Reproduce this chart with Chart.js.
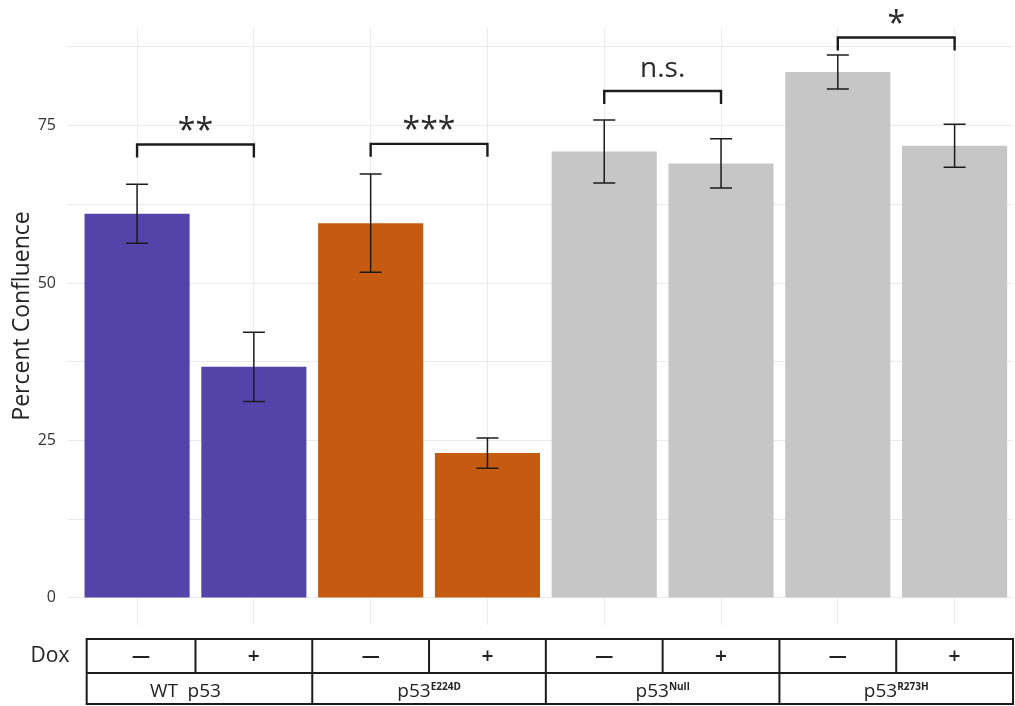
<!DOCTYPE html>
<html>
<head>
<meta charset="utf-8">
<title>Percent Confluence</title>
<script src="https://cdn.jsdelivr.net/npm/chart.js@4.4.1/dist/chart.umd.min.js"></script>
<style>
  html, body { margin: 0; padding: 0; background: #ffffff; overflow: hidden; }
  #wrap { width: 1015px; height: 706px; }
</style>
</head>
<body>
<div id="wrap"><canvas id="chart" width="1015" height="706"></canvas></div>
<script>
// ---- data ----
const doxLabels   = ['\u2014', '+', '\u2014', '+', '\u2014', '+', '\u2014', '+'];
const groupNames  = ['WT\u2002p53', 'p53', 'p53', 'p53'];
const groupSups   = ['', 'E224D', 'Null', 'R273H'];
const confluence  = [61.0, 36.7, 59.5, 23.0, 70.9, 69.0, 83.5, 71.8];
const errorSize   = [4.7, 5.5, 7.8, 2.4, 5.0, 3.9, 2.7, 3.4];
const groupColors = ['#5443a8', '#c55a11', '#c6c6c6', '#c6c6c6'];
const yTickLabels = [0, 25, 50, 75];
const yGridValues = [0, 12.5, 25, 37.5, 50, 62.5, 75, 87.5];
const sigLabels   = ['**', '***', 'n.s.', '*'];
const sigHeights  = [72.0, 72.1, 80.5, 89.0];

const FONT = '"Open Sans", "Noto Sans", sans-serif';
const INK = '#1c1c1c';
const barPositions = confluence.map((_, i) => i + 1);
const barColors = confluence.map((_, i) => groupColors[Math.floor(i / 2)]);

// Error bars, significance brackets, y title and the Dox / genotype table
const annotations = {
  id: 'annotations',
  afterDatasetsDraw(chart) {
    const { ctx, scales: { x, y } } = chart;
    ctx.save();
    // error bars
    ctx.strokeStyle = INK;
    ctx.lineWidth = 1.5;
    confluence.forEach((v, i) => {
      const cx = x.getPixelForValue(barPositions[i]);
      const top = y.getPixelForValue(v + errorSize[i]);
      const bot = y.getPixelForValue(v - errorSize[i]);
      ctx.beginPath();
      ctx.moveTo(cx, top); ctx.lineTo(cx, bot);
      ctx.moveTo(cx - 11, top); ctx.lineTo(cx + 11, top);
      ctx.moveTo(cx - 11, bot); ctx.lineTo(cx + 11, bot);
      ctx.stroke();
    });
    // brackets
    ctx.lineWidth = 2.4;
    sigLabels.forEach((lab, g) => {
      const x1 = x.getPixelForValue(barPositions[2 * g]);
      const x2 = x.getPixelForValue(barPositions[2 * g + 1]);
      const yy = y.getPixelForValue(sigHeights[g]);
      ctx.beginPath();
      ctx.moveTo(x1, yy + 13); ctx.lineTo(x1, yy); ctx.lineTo(x2, yy); ctx.lineTo(x2, yy + 13);
      ctx.stroke();
      const size = lab === 'n.s.' ? 28 : 32;
      ctx.font = size + 'px ' + FONT;
      ctx.fillStyle = '#2a2a2a';
      ctx.textAlign = 'center';
      ctx.textBaseline = 'alphabetic';
      const m = ctx.measureText(lab);
      const mid = yy - 21;
      ctx.fillText(lab, (x1 + x2) / 2, mid + (m.actualBoundingBoxAscent - m.actualBoundingBoxDescent) / 2);
    });
    ctx.restore();
  },
  afterDraw(chart) {
    const { ctx, chartArea, scales: { x } } = chart;
    ctx.save();
    // y axis title
    ctx.fillStyle = '#222';
    ctx.font = '23px ' + FONT;
    ctx.textAlign = 'center';
    ctx.textBaseline = 'middle';
    ctx.translate(22, 316);
    ctx.rotate(-Math.PI / 2);
    ctx.fillText('Percent Confluence', 0, 0);
    ctx.restore();

    // table below the panel
    ctx.save();
    const top = chartArea.bottom + 14;
    const mid = top + 34;
    const bot = top + 65;
    const left = x.getPixelForValue(0.5) + 8;
    const right = chartArea.right;
    ctx.strokeStyle = INK;
    ctx.lineWidth = 2;
    ctx.strokeRect(left, top, right - left, bot - top);
    ctx.beginPath();
    ctx.moveTo(left, mid); ctx.lineTo(right, mid);
    for (let i = 1; i < barPositions.length; i++) {
      const bx = x.getPixelForValue(barPositions[i] - 0.5);
      ctx.moveTo(bx, top);
      ctx.lineTo(bx, i % 2 === 0 ? bot : mid);
    }
    ctx.stroke();

    ctx.fillStyle = '#222';
    ctx.textBaseline = 'middle';
    ctx.textAlign = 'center';
    ctx.font = '21px ' + FONT;
    ctx.fillText('Dox', 50, (top + mid) / 2);
    doxLabels.forEach((d, i) => {
      const lx = i === 0 ? (left + x.getPixelForValue(1.5)) / 2 : x.getPixelForValue(barPositions[i]);
      ctx.font = (d === '+' ? '600 21px ' : 'bold 18px ') + FONT;
      ctx.fillText(d, lx, (top + mid) / 2 + 1);
    });

    ctx.textBaseline = 'alphabetic';
    ctx.textAlign = 'left';
    groupNames.forEach((name, g) => {
      const gl = g === 0 ? left : x.getPixelForValue(barPositions[2 * g] - 0.5);
      const gr = g === groupNames.length - 1 ? right : x.getPixelForValue(barPositions[2 * g + 1] + 0.5);
      ctx.font = '19px ' + FONT;
      const w1 = ctx.measureText(name).width;
      ctx.font = 'bold 10px ' + FONT;
      const w2 = groupSups[g] ? ctx.measureText(groupSups[g]).width : 0;
      const shift = g === 0 ? -14 : 0;
      const sx = (gl + gr) / 2 - (w1 + w2) / 2 + shift;
      const base = bot - 7;
      ctx.font = '19px ' + FONT;
      ctx.fillText(name, sx, base);
      if (groupSups[g]) {
        ctx.font = 'bold 10px ' + FONT;
        ctx.fillText(groupSups[g], sx + w1, base - 7);
      }
    });
    ctx.restore();
  }
};

new Chart(document.getElementById('chart'), {
  type: 'bar',
  data: {
    datasets: [{
      data: confluence.map((v, i) => ({ x: barPositions[i], y: v })),
      backgroundColor: barColors,
      borderWidth: 0,
      barPercentage: 0.9,
      categoryPercentage: 1.0
    }]
  },
  options: {
    responsive: false,
    animation: false,
    devicePixelRatio: 1,
    layout: { padding: { top: 28, bottom: 81, right: 2, left: 0 } },
    plugins: { legend: { display: false }, tooltip: { enabled: false } },
    scales: {
      x: {
        type: 'linear',
        min: 0.4,
        max: 8.5,
        offset: false,
        afterBuildTicks: s => { s.ticks = barPositions.map(v => ({ value: v })); },
        ticks: { display: false },
        grid: { color: '#ebebeb', lineWidth: 1, drawTicks: false, offset: false },
        border: { display: false }
      },
      y: {
        min: -4.3,
        max: 90.5,
        afterBuildTicks: s => { s.ticks = yGridValues.map(v => ({ value: v })); },
        afterFit: s => { s.width = 67; },
        ticks: {
          callback: v => (yTickLabels.includes(v) ? String(v) : ''),
          font: { family: FONT, size: 16 },
          color: '#333',
          padding: 11
        },
        grid: { color: '#ebebeb', lineWidth: 1, drawTicks: false },
        border: { display: false }
      }
    }
  },
  plugins: [annotations]
});
</script>
</body>
</html>
